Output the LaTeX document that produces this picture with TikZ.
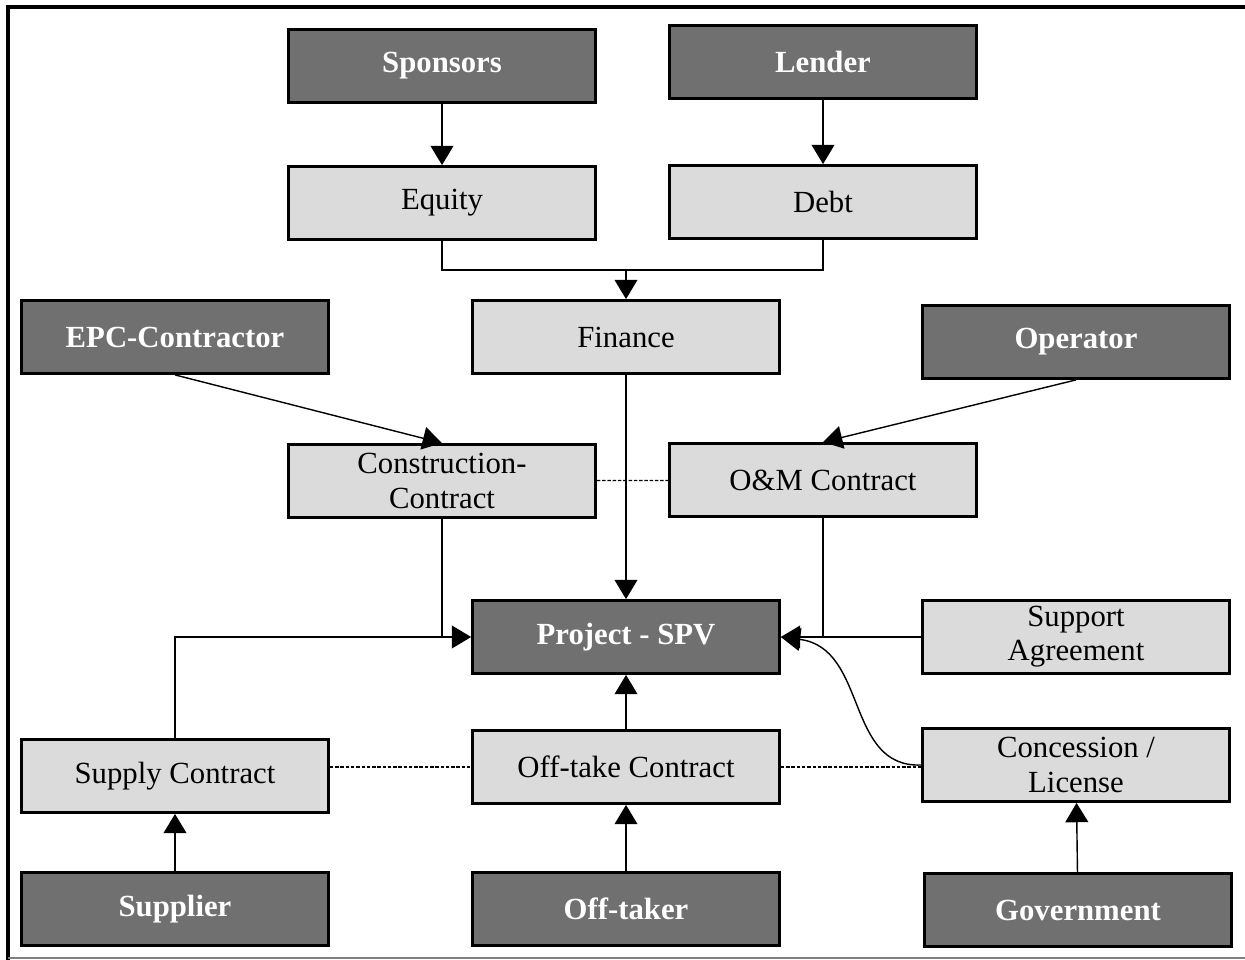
\documentclass[tikz,border=0pt]{standalone}
\usepackage{fontspec}
\setmainfont{Liberation Serif}
\usetikzlibrary{arrows.meta,calc}
\tikzset{
  darkbox/.style={draw=black,line width=1.6pt,fill=black!56,text=white,
    font=\fontsize{17.5}{20}\selectfont\bfseries,minimum width=6.14cm,
    minimum height=1.46cm,align=center,inner sep=0pt},
  lightbox/.style={darkbox,fill=black!14,text=black,
    font=\fontsize{17.5}{19.5}\selectfont},
  conn/.style={line width=0.8pt,-{Triangle[length=11pt,width=13pt]}},
  link/.style={line width=0.6pt},
  dotlink/.style={line width=0.7pt,dash pattern=on 2pt off 1pt}
}
\begin{document}
\begin{tikzpicture}[x=0.02cm,y=-0.02cm]
\useasboundingbox (0,0) rectangle (1245,960);
% frame
\draw[line width=2.2pt] (8,960) -- (8,7) -- (1245,7);
\draw[gray,line width=0.6pt] (8,958) -- (1245,958);
% parties
\node[darkbox] (spons) at (442,66) {Sponsors};
\node[darkbox] (lend) at (823,62) {Lender};
\node[darkbox] (epc) at (175,337) {EPC-Contractor};
\node[darkbox] (oper) at (1076,342) {Operator};
\node[darkbox] (spv) at (626,637) {Project - SPV};
\node[darkbox] (suppl) at (175,909) {Supplier};
\node[darkbox] (offtaker) at (626,909) {Off-taker};
\node[darkbox] (gov) at (1078,910) {Government};
% contracts
\node[lightbox] (eq) at (442,203) {Equity};
\node[lightbox] (debt) at (823,202) {Debt};
\node[lightbox] (fin) at (626,337) {Finance};
\node[lightbox] (constr) at (442,481) {Construction-\\Contract};
\node[lightbox] (om) at (823,480) {O\&M Contract};
\node[lightbox] (support) at (1076,637) {Support\\Agreement};
\node[lightbox] (supply) at (175,776) {Supply Contract};
\node[lightbox] (offtake) at (626,767) {Off-take Contract};
\node[lightbox] (conc) at (1076,765) {Concession /\\License};
% financing
\coordinate (join) at (626,270);
\draw[conn] (spons) -- (eq);
\draw[conn] (lend) -- (debt);
\draw[link] (eq.south) |- (join) -| (debt.south);
\draw[conn] (join) -- (fin);
\draw[conn] (fin) -- (spv);
% construction and operation
\draw[conn] (epc.south) -- (constr.north);
\draw[conn] (oper.south) -- (om.north);
\draw[dotlink] (constr) -- (om);
\draw[link] (constr.south) -- (constr.south |- spv.west);
\draw[conn] (supply.north) |- (spv.west);
\draw[link] (om.south) -- (om.south |- spv.east);
\draw[conn] (support.west) -- (spv.east);
\draw[conn] (conc.west) .. controls (845,768) and (868,648) .. (spv.east);
% bottom row
\draw[dotlink] (supply.east |- offtake.west) -- (offtake.west);
\draw[dotlink] (offtake.east) -- (conc.west |- offtake.east);
\draw[conn] (offtake) -- (spv);
\draw[conn] (suppl) -- (supply);
\draw[conn] (offtaker) -- (offtake);
\draw[conn] (gov) -- (conc);
\end{tikzpicture}
\end{document}
